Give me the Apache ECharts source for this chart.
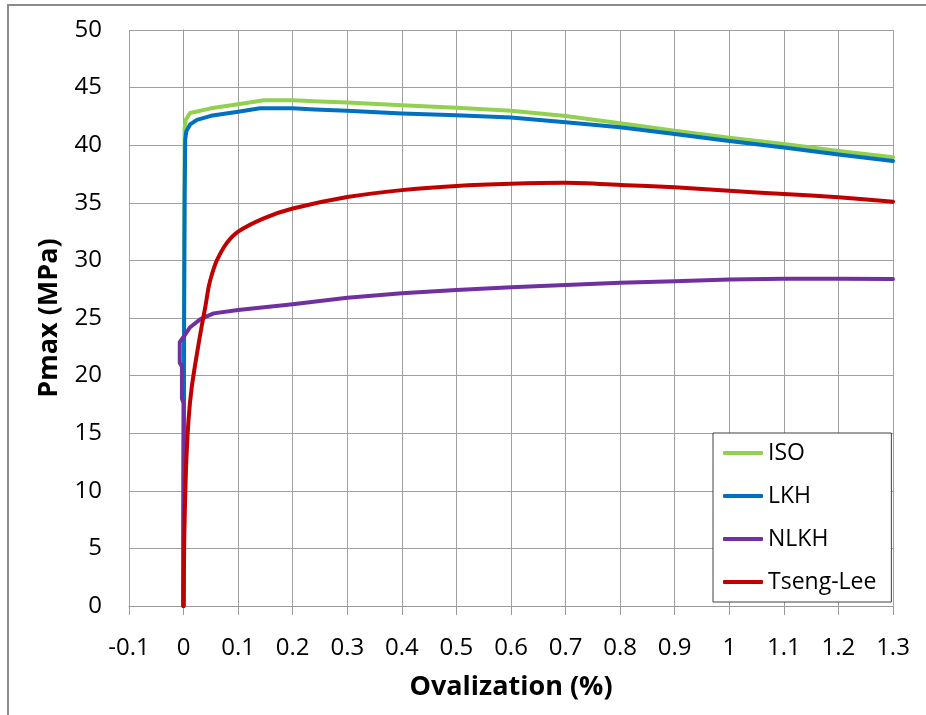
<!DOCTYPE html>
<html><head><meta charset="utf-8">
<script src="https://cdn.jsdelivr.net/npm/echarts@6/dist/echarts.min.js"></script>
<style>html,body{margin:0;padding:0;background:#fff}#c{width:926px;height:715px}</style>
</head><body><div id="c"></div>
<script>
const seriesNames = ['ISO','LKH','NLKH','Tseng-Lee'];
const xISO = [0, 0.001, 0.002, 0.004, 0.012, 0.05, 0.1, 0.147, 0.2, 0.25, 0.3, 0.4, 0.5, 0.6, 0.7, 0.8, 0.9, 1.0, 1.1, 1.2, 1.3];
const yISO = [0, 30, 41.5, 42.2, 42.8, 43.2, 43.55, 43.9, 43.9, 43.8, 43.7, 43.46, 43.26, 43.0, 42.53, 41.9, 41.26, 40.65, 40.1, 39.5, 38.95];
const xLKH = [0, 0.001, 0.002, 0.003, 0.005, 0.012, 0.0245, 0.05, 0.1, 0.14, 0.2, 0.24, 0.3, 0.4, 0.5, 0.6, 0.7, 0.8, 0.9, 1.0, 1.1, 1.2, 1.3];
const yLKH = [0, 25, 35.5, 40.5, 41.2, 41.8, 42.2, 42.55, 42.9, 43.2, 43.2, 43.1, 43.0, 42.76, 42.6, 42.4, 42.0, 41.55, 40.97, 40.36, 39.8, 39.2, 38.63];
const xNLKH = [-0.001, 0, -0.003, -0.003, -0.007, -0.007, 0.002, 0.012, 0.031, 0.055, 0.1, 0.2, 0.3, 0.4, 0.5, 0.6, 0.7, 0.8, 0.9, 1.0, 1.1, 1.2, 1.3];
const yNLKH = [0, 17.6, 18.0, 20.8, 21.1, 22.9, 23.5, 24.2, 24.9, 25.4, 25.7, 26.2, 26.76, 27.14, 27.43, 27.66, 27.86, 28.07, 28.2, 28.35, 28.4, 28.4, 28.38];
const xTL = [0, 0.0013, 0.0044, 0.009, 0.015, 0.0245, 0.034, 0.04, 0.046, 0.052, 0.061, 0.079, 0.1, 0.147, 0.2, 0.3, 0.4, 0.5, 0.6, 0.7, 0.8, 0.9, 1.0, 1.1, 1.2, 1.3];
const yTL = [0, 6.0, 11.8, 16.1, 19.0, 21.9, 24.5, 26.0, 27.7, 28.8, 30.0, 31.5, 32.5, 33.65, 34.5, 35.5, 36.1, 36.46, 36.65, 36.73, 36.55, 36.34, 36.05, 35.76, 35.48, 35.1];
const colors = ['#92D050','#0070C0','#7030A0','#C00000'];
const xTitle = 'Ovalization (%)';
const yTitle = 'Pmax (MPa)';

const zip = (xs, ys) => xs.map((x, i) => [x, ys[i]]);
const allData = [zip(xISO,yISO), zip(xLKH,yLKH), zip(xNLKH,yNLKH), zip(xTL,yTL)];
const FONT = '"Open Sans", sans-serif';

const chart = echarts.init(document.getElementById('c'), null, {renderer:'canvas'});
chart.setOption({
  animation: false,
  backgroundColor: '#fff',
  graphic: [{type:'rect', shape:{x:8,y:5,width:1000,height:1000}, style:{fill:'none', stroke:'#8c8c8c', lineWidth:2}, z:100}],
  grid: {left:129, right:33, top:30, bottom:109, containLabel:false},
  xAxis: {
    type:'value', min:-0.1, max:1.3, interval:0.1,
    name: xTitle, nameLocation:'middle', nameGap:68,
    nameTextStyle:{fontFamily:FONT, fontSize:27, fontWeight:'bold', color:'#000'},
    axisLine:{onZero:false, lineStyle:{color:'#999', width:1}},
    axisTick:{show:true, length:9, lineStyle:{color:'#999'}},
    axisLabel:{fontFamily:FONT, fontSize:24, color:'#000', margin:30, formatter: v => String(+v.toFixed(1))},
    splitLine:{show:true, lineStyle:{color:'#a0a0a0', width:1}}
  },
  yAxis: {
    type:'value', min:0, max:50, interval:5,
    name: yTitle, nameLocation:'middle', nameGap:66, nameRotate:90,
    nameTextStyle:{fontFamily:FONT, fontSize:27, fontWeight:'bold', color:'#000'},
    axisLine:{show:true, lineStyle:{color:'#999', width:1}},
    axisTick:{show:false},
    axisLabel:{fontFamily:FONT, fontSize:24, color:'#000', margin:27},
    splitLine:{show:true, lineStyle:{color:'#a0a0a0', width:1}}
  },
  legend: {
    orient:'vertical', left:713, top:433,
    data: seriesNames.map(n => ({name:n, icon:'roundRect'})),
    backgroundColor:'#fff', borderColor:'#404040', borderWidth:1,
    padding:[8,15,8,10], itemGap:19, itemWidth:40, itemHeight:4, itemTextGap:3,
    textStyle:{fontFamily:FONT, fontSize:23, color:'#000', lineHeight:24}
  },
  series: seriesNames.map((n, i) => ({
    name:n, type:'line', data: allData[i], showSymbol:false, symbol:'none',
    smooth: i === 3 ? 0.25 : false,
    lineStyle:{color:colors[i], width:4, cap:'round', join:'round'},
    itemStyle:{color:colors[i]},
    z: 2 + i
  }))
});
</script></body></html>
